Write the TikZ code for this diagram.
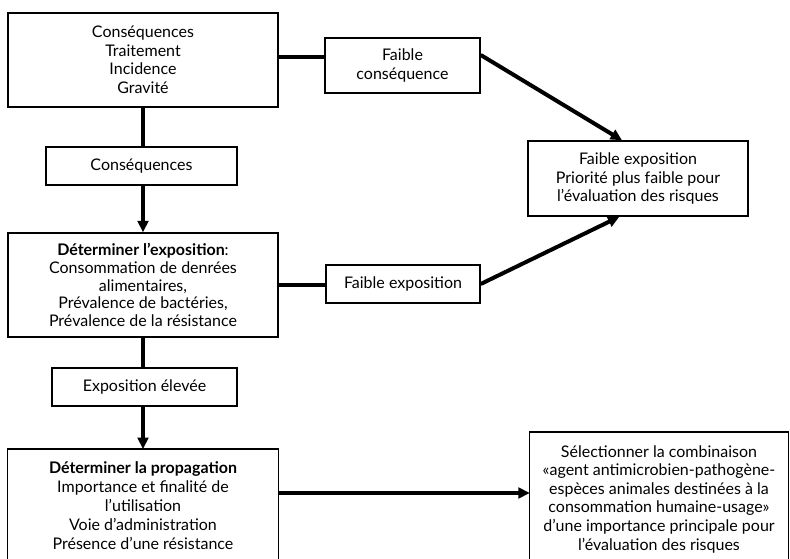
\documentclass[tikz,border=0pt]{standalone}
\usepackage{fontspec}
\setmainfont{Lato}
\usetikzlibrary{arrows.meta}
\begin{document}
\begin{tikzpicture}[x=0.75pt,y=-0.75pt,
  box/.style={draw, line width=1.1pt, align=center, inner sep=0pt, font=\fontsize{12pt}{13.9pt}\selectfont},
  openbox/.style={align=center, inner xsep=0pt, inner ysep=9pt, font=\fontsize{12pt}{13.9pt}\selectfont},
  side/.style={line width=1.1pt},
  conn/.style={line width=3pt},
  arr/.style={line width=3pt, -{Triangle[length=8.5pt,width=8pt]}}]
\useasboundingbox (0,0) rectangle (790,559);
% nodes
\node[box, minimum width=202.5pt, minimum height=70.5pt] (b1) at (143,60)
  {Conséquences\\Traitement\\Incidence\\Gravité};
\node[box, minimum width=116.25pt, minimum height=41.25pt] (fc) at (402.5,65.5)
  {Faible\\conséquence};
\node[box, minimum width=165pt, minimum height=56.25pt] (fe) at (638,178.5)
  {Faible exposition\\Priorité plus faible pour\\l’évaluation des risques};
\node[box, minimum width=143.25pt, minimum height=28.5pt] (cons) at (141.5,166)
  {Conséquences};
\node[box, minimum width=202.5pt, minimum height=78pt, font=\fontsize{12pt}{13.2pt}\selectfont] (b2) at (143,285)
  {\textbf{Déterminer l’exposition}:\\Consommation de denrées\\alimentaires,\\Prévalence de bactéries,\\Prévalence de la résistance};
\node[box, minimum width=115.5pt, minimum height=28.5pt] (fex) at (403,284)
  {Faible exposition};
\node[box, minimum width=138.75pt, minimum height=28.5pt] (ee) at (144.5,387)
  {Exposition élevée};
\node[openbox, anchor=north, minimum width=202.5pt, font=\fontsize{12pt}{14.3pt}\selectfont] (b3) at (143,449)
  {\textbf{Déterminer la propagation}\\Importance et finalité de\\l’utilisation\\Voie d’administration\\Présence d’une résistance};
\node[openbox, anchor=north, minimum width=193.5pt, inner ysep=10pt] (b4) at (659,432)
  {Sélectionner la combinaison\\«agent antimicrobien-pathogène-\\espèces animales destinées à la\\consommation humaine-usage»\\d’une importance principale pour\\l’évaluation des risques};
% open-bottom boxes
\draw[side] (b3.north west |- 0,562) -- (b3.north west) -- (b3.north east) -- (b3.north east |- 0,562);
\draw[side] (b4.north west |- 0,562) -- (b4.north west) -- (b4.north east) -- (b4.north east |- 0,562);
% connectors
\draw[conn] (b1.east |- 0,57) -- (fc.west |- 0,57);
\draw[arr] (fc.east |- 0,55) -- ([xshift=-12pt]fe.north);
\draw[conn] (b1.south) -- (b1.south |- cons.north);
\draw[arr] (b1.south |- cons.south) -- (b2.north);
\draw[conn] (b2.east) -- (fex.west |- b2.east);
\draw[arr] (fex.east) -- ([xshift=-14pt]fe.south);
\draw[conn] (b2.south) -- (b2.south |- ee.north);
\draw[arr] (b2.south |- ee.south) -- (b3.north);
\draw[arr] (b3.north east |- 0,493) -- (b4.north west |- 0,493);
\end{tikzpicture}
\end{document}
